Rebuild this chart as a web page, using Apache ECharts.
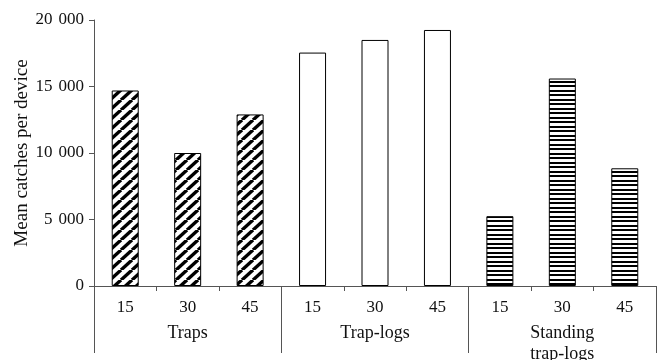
<!DOCTYPE html>
<html>
<head>
<meta charset="utf-8">
<script src="https://cdn.jsdelivr.net/npm/echarts@6/dist/echarts.min.js"></script>
<style>html,body{margin:0;padding:0;background:#fff}#c{width:662px;height:360px}</style>
</head>
<body>
<div id="c"></div>
<script>
// Data
var categories = ['15', '30', '45', '15', '30', '45', '15', '30', '45'];
var groups = ['Traps', 'Trap-logs', 'Standing\ntrap-logs'];
var groupOfBar = [0, 0, 0, 1, 1, 1, 2, 2, 2];
var values = [14700, 10000, 12900, 17550, 18500, 19250, 5250, 15600, 8850];
var yTicks = [0, 5000, 10000, 15000, 20000];

function diagPattern() {
  var w = 11, h = 10;
  var c = document.createElement('canvas');
  c.width = w; c.height = h;
  var g = c.getContext('2d');
  g.fillStyle = '#fff'; g.fillRect(0, 0, w, h);
  g.strokeStyle = '#000'; g.lineWidth = 3.4;
  for (var k = -1; k <= 1; k++) {
    g.beginPath();
    g.moveTo(k * w, h);
    g.lineTo(k * w + w, 0);
    g.stroke();
  }
  return c;
}
function horizPattern() {
  var w = 4, h = 9;
  var c = document.createElement('canvas');
  c.width = w; c.height = h;
  var g = c.getContext('2d');
  g.fillStyle = '#fff'; g.fillRect(0, 0, w, h);
  g.fillStyle = '#000';
  g.fillRect(0, 0, w, 2);
  g.fillRect(0, 4, w, 2);
  return c;
}
var fills = [
  { image: diagPattern(), repeat: 'repeat' },
  '#ffffff',
  { image: horizPattern(), repeat: 'repeat' }
];

var font = '"Liberation Serif", "Times New Roman", serif';
var axisColor = '#555';

var chart = echarts.init(document.getElementById('c'), null, { renderer: 'canvas' });
chart.setOption({
  animation: false,
  grid: { left: 94, right: 6, top: 20, bottom: 74, containLabel: false, outerBoundsMode: 'none' },
  xAxis: [
    {
      type: 'category',
      data: categories,
      position: 'bottom',
      axisLine: { show: true, lineStyle: { color: axisColor, width: 1 } },
      axisTick: { show: true, length: 5, lineStyle: { color: axisColor } },
      axisLabel: { margin: 13, fontSize: 17, color: '#111', fontFamily: font, interval: 0 },
      splitLine: { show: false }
    },
    {
      type: 'category',
      data: groups,
      position: 'bottom',
      axisLine: { show: false },
      axisTick: { show: true, length: 67, lineStyle: { color: axisColor } },
      axisLabel: { margin: 37, fontSize: 18, lineHeight: 21, color: '#111', fontFamily: font, interval: 0 },
      splitLine: { show: false }
    }
  ],
  yAxis: {
    type: 'value',
    min: 0,
    max: 20000,
    interval: 5000,
    name: 'Mean catches per device',
    nameLocation: 'middle',
    nameGap: 62,
    nameMoveOverlap: false,
    nameTextStyle: { fontSize: 19, color: '#111', fontFamily: font },
    axisLine: { show: true, lineStyle: { color: axisColor, width: 1 } },
    axisTick: { show: true, length: 5, lineStyle: { color: axisColor } },
    axisLabel: {
      margin: 10, fontSize: 17, color: '#111', fontFamily: font,
      formatter: function (v) {
        if (yTicks.indexOf(v) < 0) return '';
        if (v >= 1000) {
          return '{a|' + Math.floor(v / 1000) + '}{b|' + String(v % 1000).padStart(3, '0') + '}';
        }
        return '{a|' + v + '}';
      },
      rich: {
        a: { fontSize: 17, fontFamily: font, color: '#111' },
        b: { fontSize: 17, fontFamily: font, color: '#111', padding: [0, 0, 0, 6] }
      }
    },
    splitLine: { show: false }
  },
  series: [{
    type: 'bar',
    xAxisIndex: 0,
    barWidth: 27,
    data: values.map(function (v, i) {
      return {
        value: v,
        itemStyle: { color: fills[groupOfBar[i]], borderColor: '#000', borderWidth: 1 }
      };
    })
  }]
});
</script>
</body>
</html>
